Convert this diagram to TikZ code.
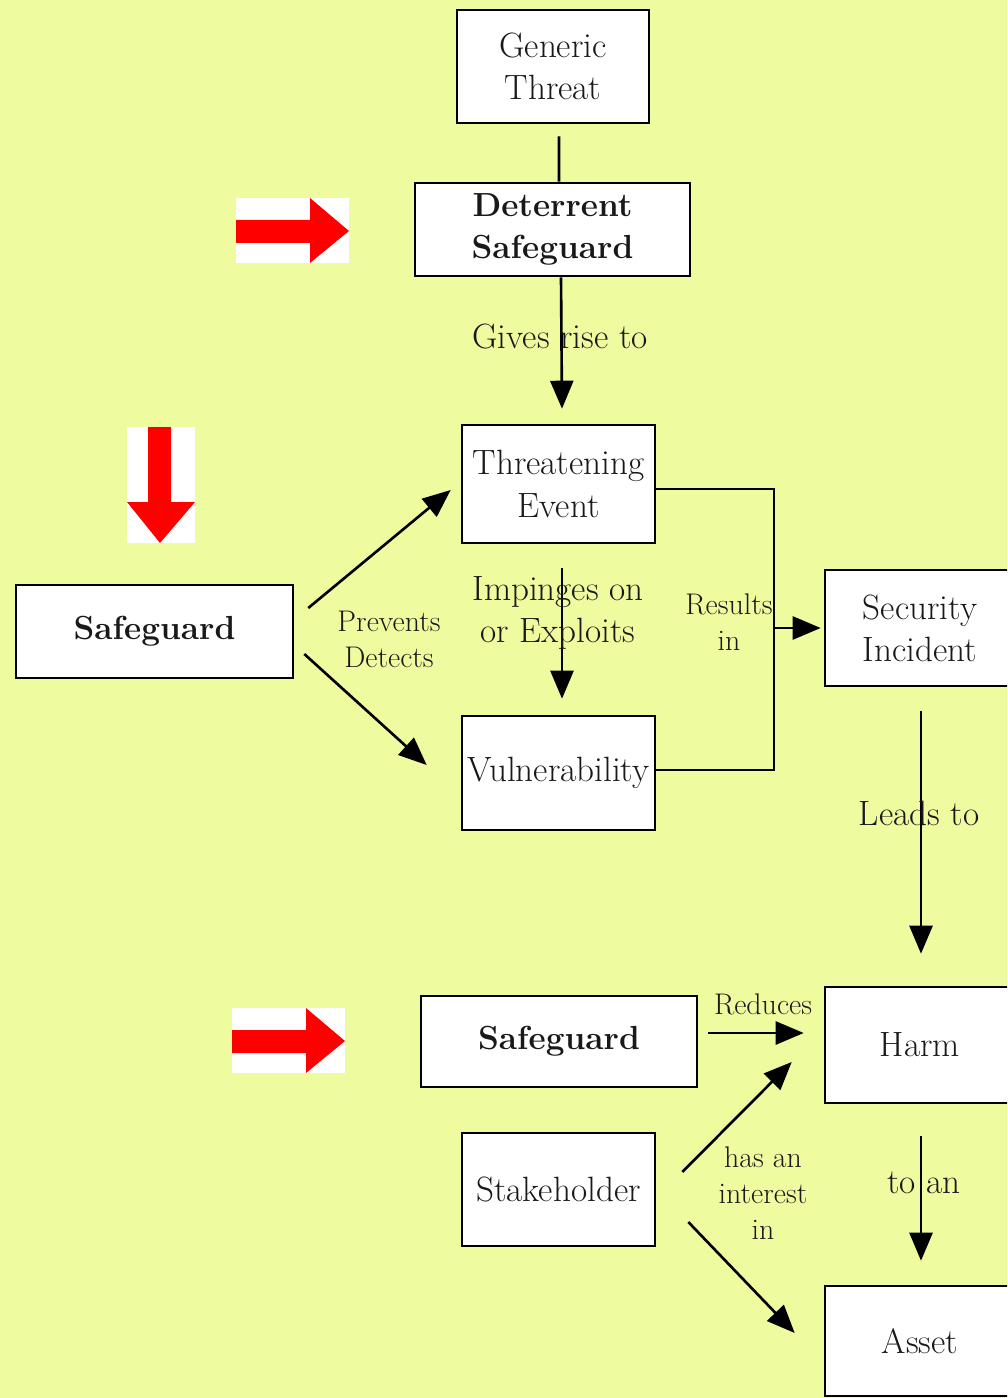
\documentclass[tikz,border=0pt]{standalone}
\usetikzlibrary{arrows.meta,calc}
\definecolor{bg}{RGB}{239,251,159}
\definecolor{txt}{RGB}{25,25,25}
\begin{document}
\begin{tikzpicture}[x=0.02cm,y=-0.02cm,
  box/.style={draw=black, fill=white, line width=1.5pt, inner sep=0pt, align=center,
    text=txt, font=\fontsize{20}{24}\selectfont},
  bbox/.style={box, font=\fontsize{19}{24}\selectfont\bfseries},
  biglab/.style={text=txt, align=center, inner sep=0pt, font=\fontsize{20}{23.5}\selectfont},
  smalllab/.style={text=txt, align=center, inner sep=0pt, font=\fontsize{17}{20.4}\selectfont},
  conn/.style={draw=black, line width=1.5pt},
  arr/.style={conn, -{Triangle[length=0.56cm, width=0.46cm]}},
  redarrow/.style={fill=red, draw=none}]
\clip (0,0) rectangle (1007,1398);
\fill[bg] (0,0) rectangle (1007,1398);

% red marker arrows
\fill[white] (236,198) rectangle (349,263);
\fill[redarrow] (236,220) -- (310,220) -- (310,198) -- (349,231) -- (310,263) -- (310,243) -- (236,243) -- cycle;
\fill[white] (232,1008) rectangle (345,1073);
\fill[redarrow] (232,1030) -- (306,1030) -- (306,1008) -- (345,1041) -- (306,1073) -- (306,1053) -- (232,1053) -- cycle;
\fill[white] (127,427) rectangle (195,543);
\fill[redarrow] (148,427) -- (171,427) -- (171,502) -- (195,502) -- (160,543) -- (127,502) -- (148,502) -- cycle;

% boxes
\node[box, minimum width=3.84cm, minimum height=2.26cm] (gt) at (553,66.5) {Generic\\Threat};
\node[bbox, minimum width=5.5cm, minimum height=1.86cm] (ds) at (552.5,229.5) {Deterrent\\Safeguard};
\node[box, minimum width=3.86cm, minimum height=2.36cm] (te) at (558.5,484) {Threatening\\Event};
\node[bbox, minimum width=5.54cm, minimum height=1.86cm] (sg) at (154.5,631.5) {Safeguard};
\node[box, minimum width=3.86cm, minimum height=2.28cm] (vul) at (558.5,773) {Vulnerability};
\node[box, minimum width=3.8cm, minimum height=2.32cm] (si) at (920,628) {Security\\Incident};
\node[box, minimum width=3.8cm, minimum height=2.32cm] (harm) at (920,1045) {Harm};
\node[bbox, minimum width=5.52cm, minimum height=1.82cm] (sgb) at (559,1041.5) {Safeguard};
\node[box, minimum width=3.86cm, minimum height=2.26cm] (sh) at (558.5,1189.5) {Stakeholder};
\node[box, minimum width=3.8cm, minimum height=2.2cm] (asset) at (920,1341) {Asset};

% connectors
\draw[conn] ($(gt.south)+(6,12)$) -- ($(ds.north)+(6.5,0)$);
\draw[arr] ($(ds.south)+(8.5,0)$) -- ($(te.north)+(3.5,-15)$);
\draw[arr] ($(sg.east)+(14,-23.5)$) -- ($(te.west)+(-10,6)$);
\draw[arr] ($(sg.east)+(10,22.5)$) -- ($(vul.west)+(-34,-8)$);
\draw[arr] ($(te.south)+(3.5,24)$) -- ($(vul.north)+(3.5,-16)$);
\coordinate (ri) at (774,628);
\draw[conn] ($(te.east)+(0,5)$) -| (ri) |- ($(vul.east)+(0,-3)$);
\draw[arr] (ri) -- ($(si.west)+(-3,0)$);
\draw[arr] ($(si.south)+(1,24)$) -- ($(harm.north)+(1,-32)$);
\draw[arr] ($(sgb.east)+(10,-8.5)$) -- ($(harm.west)+(-20,-12)$);
\draw[arr] ($(sh.east)+(26,-17.5)$) -- ($(harm.west)+(-32,17)$);
\draw[arr] ($(sh.east)+(32,32.5)$) -- ($(asset.west)+(-29,-8)$);
\draw[arr] ($(harm.south)+(1,32)$) -- ($(asset.north)+(1,-24)$);

% labels
\node[biglab] (lgr) at (560,337) {Gives rise to};
\node[smalllab] (lpd) at (389,639) {Prevents\\Detects};
\node[biglab] (lie) at (558,613) {Impinges on\\or Exploits};
\node[smalllab] (lri) at (729,622) {Results\\in};
\node[biglab] (llt) at (919,813) {Leads to};
\node[smalllab] (lred) at (763,1004) {Reduces};
\node[smalllab] (lhi) at (763,1193) {has an\\interest\\in};
\node[biglab] (lta) at (924,1183) {to an};
\end{tikzpicture}
\end{document}
